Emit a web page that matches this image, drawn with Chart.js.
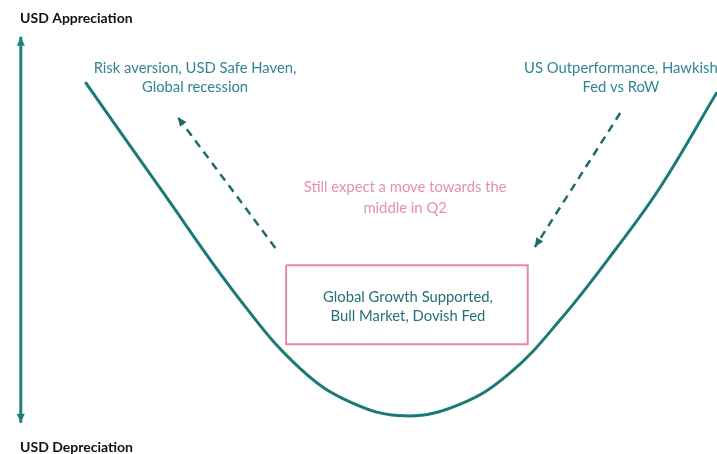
<!DOCTYPE html>
<html>
<head>
<meta charset="utf-8">
<script src="https://cdn.jsdelivr.net/npm/chart.js@4.4.0/dist/chart.umd.min.js"></script>
<style>
  html, body { margin: 0; padding: 0; background: #fff; }
  canvas { display: block; }
</style>
</head>
<body>
<canvas id="smileChart" width="717" height="454"></canvas>
<script>
// USD smile: position across the cycle (x) vs USD level (y), 0-100 units
const curveX = [11.9, 22.3, 33.5, 41.8, 48.8, 56.5, 64.2, 71.1, 78.1, 86.1, 92.1, 100];
const curveY = [81.9, 58.6, 33.9, 18.9, 11.5, 8.4, 11.0, 17.8, 29.5, 45.6, 58.8, 79.7];

// vertical USD axis
const axisX = [2.9, 2.9];
const axisY = [6.9, 91.9];

// dashed move arrows (start -> tip)
const leftMoveX = [38.4, 24.8];
const leftMoveY = [45.4, 74.2];
const rightMoveX = [86.5, 74.6];
const rightMoveY = [75.1, 45.6];

// middle box corners
const boxX = [39.9, 73.6, 73.6, 39.9, 39.9];
const boxY = [41.6, 41.6, 24.2, 24.2, 41.6];

// text labels
const labels = [
    { text: 'USD Appreciation', x: 2.8, y: 96.0, align: 'left', color: '#111111', weight: 'bold' },
    { text: 'USD Depreciation', x: 2.8, y: 1.5, align: 'left', color: '#111111', weight: 'bold' },
    { text: 'Risk aversion, USD Safe Haven,', x: 27.2, y: 85.0, align: 'center', color: '#2e8593', weight: 'normal' },
    { text: 'Global recession', x: 27.2, y: 80.8, align: 'center', color: '#2e8593', weight: 'normal' },
    { text: 'US Outperformance, Hawkish', x: 86.6, y: 85.0, align: 'center', color: '#2e8593', weight: 'normal' },
    { text: 'Fed vs RoW', x: 86.6, y: 80.8, align: 'center', color: '#2e8593', weight: 'normal' },
    { text: 'Still expect a move towards the', x: 56.5, y: 58.8, align: 'center', color: '#e68fae', weight: 'normal' },
    { text: 'middle in Q2', x: 56.5, y: 54.2, align: 'center', color: '#e68fae', weight: 'normal' },
    { text: 'Global Growth Supported,', x: 56.9, y: 34.6, align: 'center', color: '#236f79', weight: 'normal' },
    { text: 'Bull Market, Dovish Fed', x: 56.9, y: 30.4, align: 'center', color: '#236f79', weight: 'normal' }
];

function toPoints(xs, ys) {
    return xs.map((x, i) => ({ x: x, y: ys[i] }));
}

// Arrowheads at the ends of flagged datasets
const arrowPlugin = {
    id: 'arrowHeads',
    afterDatasetsDraw(chart) {
        const ctx = chart.ctx;
        chart.data.datasets.forEach((ds, i) => {
            if (!ds.arrows) return;
            const pts = chart.getDatasetMeta(i).data;
            ds.arrows.forEach(end => {
                const tip = end === 'end' ? pts[pts.length - 1] : pts[0];
                const prev = end === 'end' ? pts[pts.length - 2] : pts[1];
                const ang = Math.atan2(tip.y - prev.y, tip.x - prev.x);
                const len = ds.arrowSize || 9;
                const half = len * 0.45;
                ctx.save();
                ctx.translate(tip.x, tip.y);
                ctx.rotate(ang);
                ctx.beginPath();
                ctx.moveTo(0, 0);
                ctx.lineTo(-len, -half);
                ctx.lineTo(-len, half);
                ctx.closePath();
                ctx.fillStyle = ds.borderColor;
                ctx.fill();
                ctx.restore();
            });
        });
    }
};

// Text labels placed through the scales
const textPlugin = {
    id: 'textLabels',
    afterDatasetsDraw(chart) {
        const ctx = chart.ctx;
        const xs = chart.scales.x, ys = chart.scales.y;
        ctx.save();
        ctx.textBaseline = 'middle';
        labels.forEach(l => {
            ctx.font = `${l.weight} ${l.weight === 'bold' ? 14 : 14.8}px Lato, "Open Sans", sans-serif`;
            ctx.fillStyle = l.color;
            ctx.textAlign = l.align;
            ctx.fillText(l.text, xs.getPixelForValue(l.x), ys.getPixelForValue(l.y));
        });
        ctx.restore();
    }
};

const ctx = document.getElementById('smileChart').getContext('2d');
new Chart(ctx, {
    type: 'scatter',
    data: {
        datasets: [
            {
                label: 'USD smile',
                data: toPoints(curveX, curveY),
                showLine: true,
                borderColor: '#1b7a78',
                borderWidth: 3,
                pointRadius: 0,
                tension: 0.4
            },
            {
                label: 'USD axis',
                data: toPoints(axisX, axisY),
                showLine: true,
                borderColor: '#1f8080',
                borderWidth: 3,
                pointRadius: 0,
                arrows: ['start', 'end'],
                arrowSize: 9
            },
            {
                label: 'Move left',
                data: toPoints(leftMoveX, leftMoveY),
                showLine: true,
                borderColor: '#1f6b6e',
                borderWidth: 2.5,
                borderDash: [8, 6],
                pointRadius: 0,
                arrows: ['end'],
                arrowSize: 9
            },
            {
                label: 'Move right',
                data: toPoints(rightMoveX, rightMoveY),
                showLine: true,
                borderColor: '#1f6b6e',
                borderWidth: 2.5,
                borderDash: [8, 6],
                pointRadius: 0,
                arrows: ['end'],
                arrowSize: 9
            },
            {
                label: 'Middle box',
                data: toPoints(boxX, boxY),
                showLine: true,
                borderColor: '#e58aa3',
                borderWidth: 2,
                pointRadius: 0,
                tension: 0
            }
        ]
    },
    options: {
        responsive: false,
        animation: false,
        layout: { padding: 0 },
        clip: false,
        scales: {
            x: { type: 'linear', min: 0, max: 100, display: false },
            y: { type: 'linear', min: 0, max: 100, display: false }
        },
        plugins: {
            legend: { display: false },
            tooltip: { enabled: false }
        }
    },
    plugins: [arrowPlugin, textPlugin]
});
</script>
</body>
</html>
